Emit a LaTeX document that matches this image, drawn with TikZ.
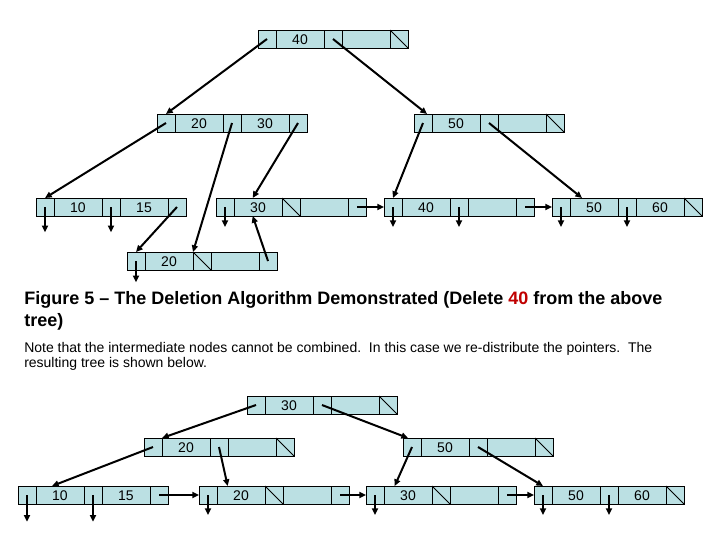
\documentclass[tikz,border=0pt]{standalone}
\usepackage{fontspec}
\setmainfont{Liberation Sans}
\usepackage{xcolor}
\usepackage{tikz}
\usetikzlibrary{arrows.meta, positioning, calc}

\definecolor{cellfill}{RGB}{187,224,227}
\definecolor{delred}{RGB}{192,0,0}

% one B+ tree node: pointer, key, pointer, key, pointer
\newcommand{\bpnode}[4]{%
  \node[pcell, anchor=north west] (#1-0) at (#2) {};
  \node[kcell, right=0pt of #1-0] (#1-1) {#3};
  \node[pcell, right=0pt of #1-1] (#1-2) {};
  \node[kcell, right=0pt of #1-2] (#1-3) {#4};
  \node[pcell, right=0pt of #1-3] (#1-4) {};
}

\begin{document}
\begin{tikzpicture}[x=0.75pt, y=-0.75pt,
  pcell/.style={draw, fill=cellfill, line width=0.6pt, minimum width=13.5pt, minimum height=13.5pt, inner sep=0pt, outer sep=0pt},
  kcell/.style={pcell, minimum width=36pt, font=\fontsize{10.5}{12}\selectfont, text height=8.5pt, text depth=-3pt},
  ptr/.style={-{Triangle[length=5pt, width=4.5pt]}, line width=1.5pt},
  nil/.style={line width=0.6pt}]

\useasboundingbox (0,0) rectangle (720,540);

% Tree before the deletion
\bpnode{troot}{258,30}{40}{}
\bpnode{tleft}{157,114}{20}{30}
\bpnode{tright}{414,114}{50}{}
\bpnode{tleaf1}{36,198}{10}{15}
\bpnode{tleaf2}{216,198}{30}{}
\bpnode{tleaf3}{384,198}{40}{}
\bpnode{tleaf4}{552,198}{50}{60}
\bpnode{tmerge}{127,252}{20}{}

% Tree after the deletion
\bpnode{broot}{247,396}{30}{}
\bpnode{bleft}{144,438}{20}{}
\bpnode{bright}{403,438}{50}{}
\bpnode{bleaf1}{18,486}{10}{15}
\bpnode{bleaf2}{199,486}{20}{}
\bpnode{bleaf3}{366,486}{30}{}
\bpnode{bleaf4}{534,486}{50}{60}

% Null pointers
\foreach \c in {troot-4, tright-4, tleaf2-2, tleaf4-4, tmerge-2, broot-4, bleft-4, bright-4, bleaf2-2, bleaf3-2, bleaf4-4}
  \draw[nil] (\c.north west) -- (\c.south east);

% Arrows in the upper tree
\draw[ptr] (troot-0.center) -- (tleft-0.north);
\draw[ptr] (troot-2.center) -- ([xshift=3pt]tright-0.north);
\draw[ptr] (tleft-0.center) -- (tleaf1-0.north);
\draw[ptr] (tleft-2.center) -- (tmerge-2.north west);
\draw[ptr] (tleft-4.center) -- ([xshift=-4pt]tleaf2-1.north);
\draw[ptr] (tright-0.center) -- (tleaf3-0.north);
\draw[ptr] (tright-2.center) -- ([xshift=9pt]tleaf4-1.north west);
\draw[ptr] (tleaf1-4.center) -- (tmerge-0.north);
\draw[ptr] (tleaf2-4.center) -- (tleaf3-0.west);
\draw[ptr] (tleaf3-4.center) -- (tleaf4-0.west);
\draw[ptr] (tmerge-4.center) -- ([xshift=-4pt]tleaf2-1.south);

% Arrows in the lower tree
\draw[ptr] (broot-0.center) -- (bleft-0.north east);
\draw[ptr] (broot-2.center) -- ([xshift=-3pt]bright-0.north);
\draw[ptr] (bleft-0.center) -- ([xshift=12pt]bleaf1-1.north west);
\draw[ptr] (bleft-2.center) -- ([xshift=8pt]bleaf2-1.north west);
\draw[ptr] (bright-0.center) -- ([xshift=8pt]bleaf3-1.north west);
\draw[ptr] (bright-2.center) -- (bleaf4-0.north);
\draw[ptr] (bleaf1-4.center) -- (bleaf2-0.west);
\draw[ptr] (bleaf2-4.center) -- (bleaf3-0.west);
\draw[ptr] (bleaf3-4.center) -- (bleaf4-0.west);

% Record pointers
\foreach \c/\len in {tleaf1-0/19, tleaf1-2/19, tleaf2-0/15, tleaf3-0/15, tleaf3-2/15, tleaf4-0/15, tleaf4-2/15, tmerge-0/16,
                     bleaf1-0/20, bleaf1-2/20, bleaf2-0/15, bleaf3-0/15, bleaf4-0/15, bleaf4-2/15} {
  \coordinate (\c-rec) at ([yshift=-\len pt]\c.center);
  \draw[ptr] (\c.center) -- (\c-rec);
}

% Texts
\node[anchor=north west, align=left, inner sep=0pt, font=\bfseries\fontsize{13.5}{16.5}\selectfont] (caption) at (24,291)
  {Figure 5 – The Deletion Algorithm Demonstrated (Delete \textcolor{delred}{40} from the above\\tree)};
\node[anchor=north west, align=left, inner sep=0pt, font=\fontsize{10.5}{11}\selectfont] (note) at (24,342)
  {Note that the intermediate nodes cannot be combined.\ \ In this case we re-distribute the pointers.\ \ The\\
   resulting tree is shown below.};

\end{tikzpicture}
\end{document}
